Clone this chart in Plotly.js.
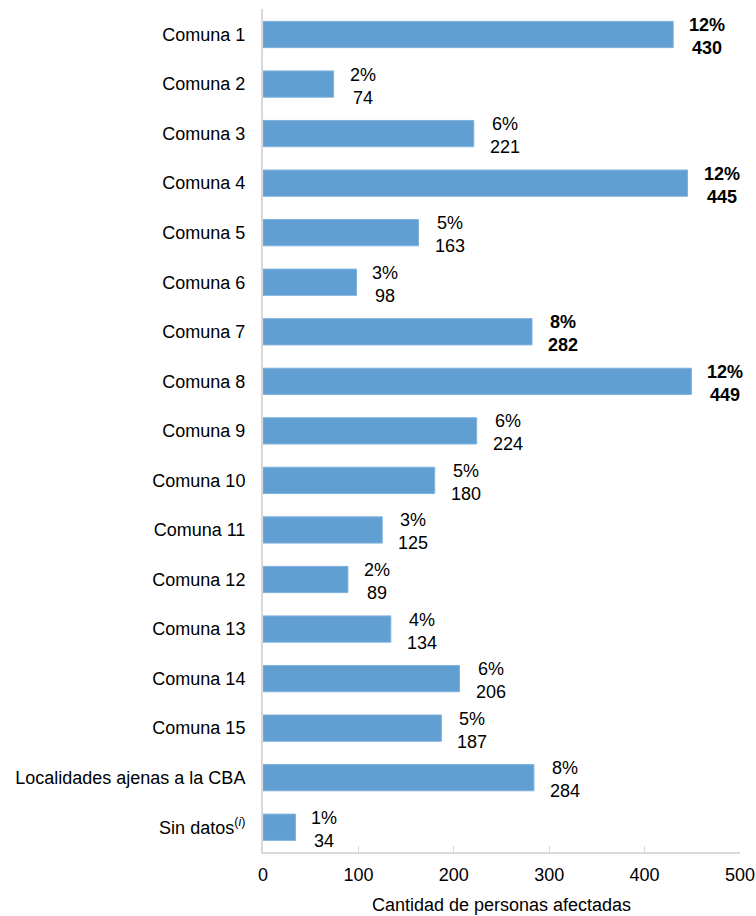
<!DOCTYPE html>
<html>
<head>
<meta charset="utf-8">
<script src="https://cdn.plot.ly/plotly-3.0.1.min.js"></script>
<style>html,body{margin:0;padding:0;background:#fff;}#chart{width:756px;height:916px;}</style>
</head>
<body>
<div id="chart"></div>
<script>
const categories = ["Comuna 1","Comuna 2","Comuna 3","Comuna 4","Comuna 5","Comuna 6","Comuna 7","Comuna 8","Comuna 9","Comuna 10","Comuna 11","Comuna 12","Comuna 13","Comuna 14","Comuna 15","Localidades ajenas a la CBA","Sin datos<sup>(<i>i</i>)</sup>"];
const values = [430,74,221,445,163,98,282,449,224,180,125,89,134,206,187,284,34];
const percents = ["12%","2%","6%","12%","5%","3%","8%","12%","6%","5%","3%","2%","4%","6%","5%","8%","1%"];
const boldLabels = [true,false,false,true,false,false,true,true,false,false,false,false,false,false,false,false,false];
const xTicks = [0,100,200,300,400,500];

const font = "Liberation Sans, Arial, sans-serif";
const annotations = categories.map((c,i)=>{
  const t = percents[i] + "<br>" + values[i];
  return {
    x: values[i], y: c, xref:'x', yref:'y',
    text: boldLabels[i] ? "<b>" + percents[i] + "</b><br><b>" + values[i] + "</b>" : t,
    showarrow:false, xanchor:'left', yanchor:'middle', xshift:14, yshift:-2, align:'center',
    font:{family:font, size:18, color:'#000'}
  };
});

Plotly.newPlot('chart', [{
  type:'bar', orientation:'h', x: values, y: categories,
  marker:{color:'#619ed2', line:{color:'#7fb2dd', width:1}},
  width:0.53, hoverinfo:'none'
}], {
  width:756, height:916,
  margin:{l:263, r:16, t:9, b:64},
  paper_bgcolor:'#fff', plot_bgcolor:'#fff',
  showlegend:false,
  font:{family:font, size:18, color:'#000'},
  xaxis:{
    range:[0,500], tickvals:xTicks, ticktext:xTicks.map(String),
    showgrid:false, zeroline:false, showline:true, linecolor:'#d9d9d9', linewidth:2,
    ticks:'inside', ticklen:6, tickcolor:'#d9d9d9', tickwidth:1,
    ticklabelstandoff:5,
    tickfont:{family:font, size:18, color:'#000'},
    title:{text:'Cantidad de personas afectadas', font:{family:font, size:18, color:'#000'}, standoff:15},
    automargin:false
  },
  yaxis:{
    type:'category', autorange:'reversed', showgrid:false, zeroline:false,
    showline:true, linecolor:'#d9d9d9', linewidth:2, ticks:'', ticklabelstandoff:12,
    tickfont:{family:font, size:18, color:'#000'}, automargin:false
  },
  annotations: annotations
}, {staticPlot:true});
</script>
</body>
</html>
